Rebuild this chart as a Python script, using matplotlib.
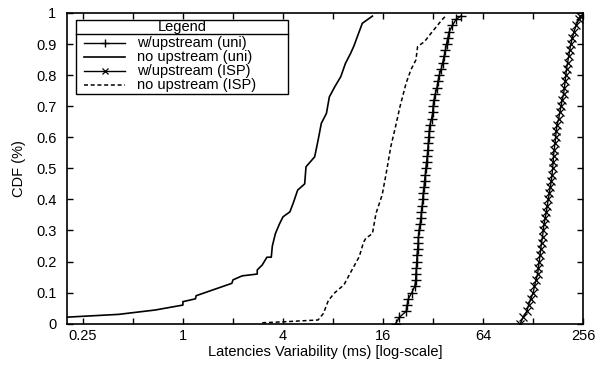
import matplotlib
matplotlib.use("Agg")
import matplotlib.pyplot as plt
from matplotlib.ticker import FixedLocator, FixedFormatter, NullLocator
from matplotlib.lines import Line2D
from matplotlib.patches import Rectangle

plt.rcParams['font.family'] = ['Liberation Sans', 'DejaVu Sans']

# ---- data ----
# no upstream (uni): solid line
noup_uni_x = [0.15, 0.2, 0.41, 0.68, 1.0, 1.0, 1.19, 1.2, 1.97, 2.0, 2.27, 2.72, 2.8, 2.8, 3.0,
              3.2, 3.4, 3.45, 3.6, 3.8, 4.0, 4.4, 4.6, 4.9, 5.4, 5.5, 6.2, 6.5, 6.8, 7.3,
              7.6, 8.2, 8.9, 9.5, 10.2, 10.7, 11.2, 12.0, 13.8]
noup_uni_y = [0.018, 0.021, 0.030, 0.044, 0.060, 0.071, 0.080, 0.090, 0.130, 0.141, 0.154, 0.159,
              0.160, 0.173, 0.189, 0.214, 0.214, 0.25, 0.29, 0.32, 0.344, 0.36, 0.387, 0.43,
              0.45, 0.505, 0.537, 0.59, 0.645, 0.677, 0.73, 0.763, 0.795, 0.838, 0.87, 0.895,
              0.924, 0.967, 0.99]

# no upstream (ISP): dashed line
noup_isp_x = [3.0, 4.0, 6.5, 7.0, 7.5, 8.2, 9.3, 10.2, 11.5, 12.2, 12.6, 13.8, 14.5, 15.8,
              16.7, 17.8, 19.0, 20.2, 22.0, 23.5, 25.2, 25.8, 28.4, 31.1, 34.2, 36.0, 38.0]
noup_isp_y = [0.003, 0.006, 0.012, 0.033, 0.075, 0.100, 0.125, 0.165, 0.216, 0.262, 0.275,
              0.29, 0.355, 0.415, 0.484, 0.57, 0.634, 0.698, 0.774, 0.817, 0.849, 0.892,
              0.908, 0.935, 0.962, 0.977, 0.99]

# w/upstream (uni): line with + markers
wup_uni_x = [19.0, 20.0, 22.0, 22.3, 22.7, 23.8, 24.8, 25.1, 25.2, 25.4, 25.5, 25.6, 25.8,
             26.0, 26.1, 26.3, 26.7, 27.0, 27.2, 27.5, 27.7, 27.9, 28.2, 28.4, 28.7, 28.9,
             29.2, 29.5, 29.7, 29.9, 30.1, 30.3, 30.6, 31.3, 31.8, 32.0, 32.3, 33.0, 33.7,
             34.2, 34.8, 35.8, 36.5, 37.2, 37.9, 38.5, 39.2, 40.0, 41.8, 44.0, 47.0]
wup_uni_y = [0.00, 0.02, 0.04, 0.06, 0.08, 0.10, 0.12, 0.14, 0.16, 0.18, 0.20, 0.22, 0.24,
             0.26, 0.28, 0.30, 0.32, 0.34, 0.36, 0.38, 0.40, 0.42, 0.44, 0.46, 0.48, 0.50,
             0.52, 0.54, 0.56, 0.58, 0.60, 0.62, 0.64, 0.66, 0.68, 0.70, 0.72, 0.74, 0.76,
             0.78, 0.80, 0.82, 0.84, 0.86, 0.88, 0.90, 0.92, 0.94, 0.96, 0.98, 0.99]

# w/upstream (ISP): line with x markers
wup_isp_x = [107, 111, 117, 120, 123.5, 128, 130, 133, 136, 137.5, 139, 140.5, 142, 143.5,
             145.5, 147, 148.5, 151, 153.5, 155.5, 157.5, 160, 162, 164.5, 166, 167.5,
             168.5, 169.5, 171, 173, 174.5, 176, 178, 182, 185, 188, 191, 195, 197, 199,
             201, 203, 206, 209, 212, 215.5, 220, 225, 232, 240, 246]
wup_isp_y = [0.00, 0.02, 0.04, 0.06, 0.08, 0.10, 0.12, 0.14, 0.16, 0.18, 0.20, 0.22, 0.24,
             0.26, 0.28, 0.30, 0.32, 0.34, 0.36, 0.38, 0.40, 0.42, 0.44, 0.46, 0.48, 0.50,
             0.52, 0.54, 0.56, 0.58, 0.60, 0.62, 0.64, 0.66, 0.68, 0.70, 0.72, 0.74, 0.76,
             0.78, 0.80, 0.82, 0.84, 0.86, 0.88, 0.90, 0.92, 0.94, 0.96, 0.98, 0.99]

x_ticks = [0.25, 0.5, 1, 2, 4, 8, 16, 32, 64, 128, 256]
x_tick_labels = ["0.25", "", "1", "", "4", "", "16", "", "64", "", "256"]
y_ticks = [0, 0.1, 0.2, 0.3, 0.4, 0.5, 0.6, 0.7, 0.8, 0.9, 1]
y_tick_labels = ["0", "0.1", "0.2", "0.3", "0.4", "0.5", "0.6", "0.7", "0.8", "0.9", "1"]

series_labels = ["w/upstream (uni)", "no upstream (uni)", "w/upstream (ISP)", "no upstream (ISP)"]

FS = 10.5

# ---- figure ----
W, H = 597, 369
fig = plt.figure(figsize=(W / 100, H / 100), dpi=100)
ax_l, ax_r, ax_t, ax_b = 66.7, 583.3, 13.0, 323.7
ax = fig.add_axes([ax_l / W, 1 - ax_b / H, (ax_r - ax_l) / W, (ax_b - ax_t) / H])

ax.plot(wup_uni_x, wup_uni_y, color='black', lw=1.0, marker='+', ms=6.5, mew=1.0)
ax.plot(noup_uni_x, noup_uni_y, color='black', lw=1.2)
ax.plot(wup_isp_x, wup_isp_y, color='black', lw=1.0, marker='x', ms=5.5, mew=0.9)
ax.plot(noup_isp_x, noup_isp_y, color='black', lw=1.1, ls=(0, (2.6, 1.8)))

ax.set_xscale('log', base=2)
ax.set_xlim(0.2, 256)
ax.set_ylim(0, 1)
ax.xaxis.set_major_locator(FixedLocator(x_ticks))
ax.xaxis.set_major_formatter(FixedFormatter(x_tick_labels))
ax.xaxis.set_minor_locator(NullLocator())
ax.yaxis.set_major_locator(FixedLocator(y_ticks))
ax.yaxis.set_major_formatter(FixedFormatter(y_tick_labels))

ax.tick_params(direction='in', length=4.2, width=1.0, labelsize=FS, top=True, right=True)
ax.tick_params(axis='y', pad=7.5)
ax.tick_params(axis='x', pad=3.5)
for s in ax.spines.values():
    s.set_linewidth(1.2)

ax.set_xlabel("Latencies Variability (ms) [log-scale]", fontsize=FS, labelpad=2)
ax.set_ylabel("CDF (%)", fontsize=FS, labelpad=7)

# ---- legend box (gnuplot style, with title row) ----
aw, ah = ax_r - ax_l, ax_b - ax_t
def fx(px):
    return (px - ax_l) / aw
def fy(py):
    return (ax_b - py) / ah

bx0, bx1, by0, by1 = fx(75.7), fx(288.3), fy(94.3), fy(20)
ax.add_patch(Rectangle((bx0, by0), bx1 - bx0, by1 - by0, transform=ax.transAxes,
                       fill=True, facecolor='white', edgecolor='black', lw=1.0, zorder=5))
ax.plot([bx0, bx1], [fy(34.3), fy(34.3)], transform=ax.transAxes, color='black', lw=1.0, zorder=6)
ax.text((bx0 + bx1) / 2, fy(27.3), "Legend", transform=ax.transAxes, ha='center', va='center',
        fontsize=FS, zorder=7)

entry_y = [43.3, 57.3, 71.0, 85.0]
styles = [dict(ls='-', marker='+', ms=6, mew=1.0, lw=1.0),
          dict(ls='-', marker=None, lw=1.2),
          dict(ls='-', marker='x', ms=5, mew=0.9, lw=1.0),
          dict(ls=(0, (2.6, 1.8)), marker=None, lw=1.1)]
for lab, ey, st in zip(series_labels, entry_y, styles):
    ln = Line2D([fx(84), fx(125)], [fy(ey), fy(ey)], transform=ax.transAxes, color='black',
                zorder=7, ls=st['ls'], lw=st['lw'])
    ax.add_line(ln)
    if st.get('marker'):
        ax.add_line(Line2D([fx(104.5)], [fy(ey)], transform=ax.transAxes, color='black',
                           ls='none', marker=st['marker'], ms=st['ms'], mew=st['mew'], zorder=8))
    ax.text(fx(136.7), fy(ey), lab, transform=ax.transAxes, ha='left', va='center',
            fontsize=FS, zorder=7)

fig.savefig("out.png", dpi=100)
